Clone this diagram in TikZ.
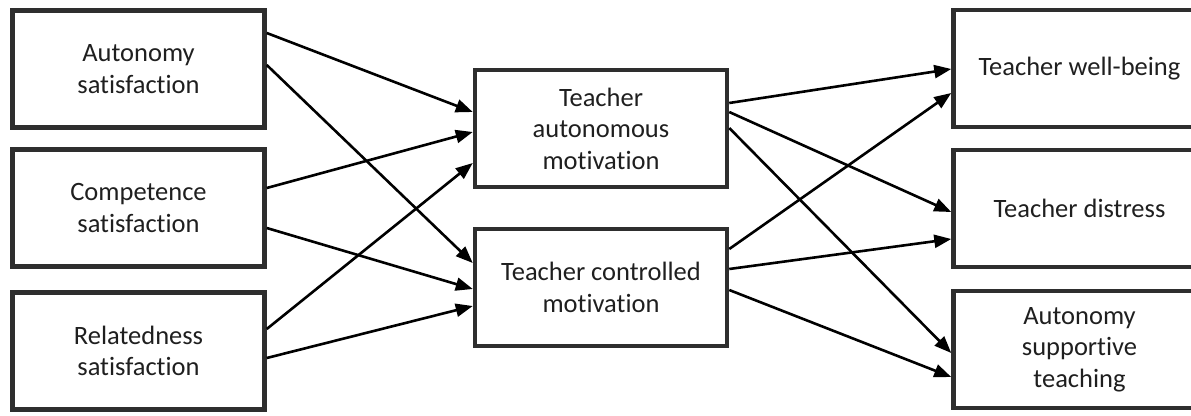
\documentclass[tikz,border=0pt]{standalone}
\usepackage{fontspec}
\setmainfont{Carlito}[Ligatures={NoCommon,NoContextual},RawFeature={-liga;-clig;-calt}]
\usetikzlibrary{arrows.meta}
\begin{document}
\begin{tikzpicture}[x=1pt,y=-1pt,
  box/.style={draw=black!82, line width=4.5pt, minimum width=252pt, minimum height=117pt,
    inner sep=0pt, align=center, font=\fontsize{26.5}{31.5}\selectfont, text=black!88},
  link/.style={line width=2.6pt, -{Triangle[length=17pt,width=13pt]}}]
\useasboundingbox (0,0) rectangle (1191,415);

% basic needs
\node[box] (L1) at (138.5,69)  {Autonomy\\satisfaction};
\node[box] (L2) at (138.5,208) {Competence\\satisfaction};
\node[box] (L3) at (138.5,351) {Relatedness\\satisfaction};

% motivation
\node[box] (MA) at (601,128.5) {Teacher\\autonomous\\motivation};
\node[box] (MB) at (601,287.5) {Teacher controlled\\motivation};

% outcomes
\node[box] (R1) at (1079.5,68.5)  {Teacher well-being};
\node[box] (R2) at (1079.5,208.5) {Teacher distress};
\node[box] (R3) at (1079.5,349.5) {Autonomy\\supportive\\teaching};

% needs -> motivation
\draw[link] ([yshift=36pt]L1.east)  -- ([yshift=16.5pt]MA.west);
\draw[link] ([yshift=4pt]L1.east)   -- ([yshift=24.5pt]MB.west);
\draw[link] ([yshift=20pt]L2.east)  -- ([yshift=-3.5pt]MA.west);
\draw[link] ([yshift=-20pt]L2.east) -- ([yshift=-1.5pt]MB.west);
\draw[link] ([yshift=22pt]L3.east)  -- ([yshift=-34.5pt]MA.west);
\draw[link] ([yshift=-7pt]L3.east)  -- ([yshift=-18.5pt]MB.west);

% motivation -> outcomes
\draw[link] ([yshift=25.5pt]MA.east) -- ([yshift=-0.5pt]R1.west);
\draw[link] ([yshift=16.5pt]MA.east) -- ([yshift=-3.5pt]R2.west);
\draw[link] ([yshift=0.5pt]MA.east)  -- ([yshift=-3.5pt]R3.west);
\draw[link] ([yshift=38.5pt]MB.east) -- ([yshift=-24.5pt]R1.west);
\draw[link] ([yshift=18.5pt]MB.east) -- ([yshift=-30.5pt]R2.west);
\draw[link] ([yshift=-2.5pt]MB.east) -- ([yshift=-27.5pt]R3.west);
\end{tikzpicture}
\end{document}
